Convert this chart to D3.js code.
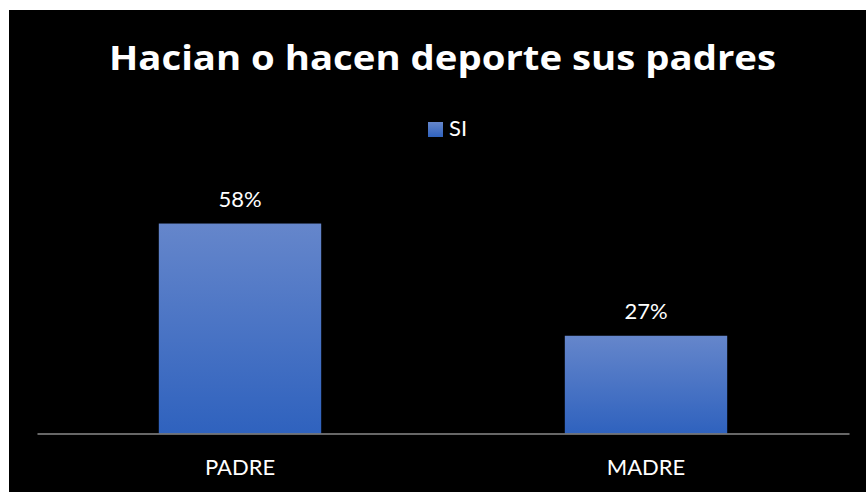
<!DOCTYPE html>
<html>
<head>
<meta charset="utf-8">
<script src="https://cdn.jsdelivr.net/npm/d3@7"></script>
<style>
  body { margin: 0; background: #fff; }
  text { font-family: Lato, "Open Sans", sans-serif; }
</style>
</head>
<body>
<div id="chart"></div>
<script>
// chart data
let categories = ["PADRE", "MADRE"];
let si_values = [0.58, 0.27];
let series_name = "SI";
let title_text = "Hacian o hacen deporte sus padres";

let width = 866;
let height = 492;

let opts = {
  frame_x: 9,
  frame_y: 10,
  plot_left: 37,
  plot_right: 849,
  baseline: 433.5,
  px_per_unit: 362,
  bar_padding: 0.6,
  title_x: 109,
  title_width: 667,
};

let svg = d3
  .select("#chart")
  .append("svg")
  .attr("width", width)
  .attr("height", height);

// gradient for bars
let defs = svg.append("defs");
let grad = defs
  .append("linearGradient")
  .attr("id", "barGrad")
  .attr("x1", 0)
  .attr("y1", 0)
  .attr("x2", 0)
  .attr("y2", 1);
grad.append("stop").attr("offset", "0%").attr("stop-color", "#6586cb");
grad.append("stop").attr("offset", "100%").attr("stop-color", "#2f62be");

// black chart area
svg
  .append("rect")
  .attr("x", opts.frame_x)
  .attr("y", opts.frame_y)
  .attr("width", width - opts.frame_x)
  .attr("height", height - opts.frame_y)
  .attr("fill", "#000");

let x = d3
  .scaleBand()
  .domain(categories)
  .range([opts.plot_left, opts.plot_right])
  .paddingInner(opts.bar_padding)
  .paddingOuter(opts.bar_padding / 2);

let y = d3
  .scaleLinear()
  .domain([0, 0.6])
  .range([opts.baseline, opts.baseline - 0.6 * opts.px_per_unit]);

// bars
svg
  .selectAll(".bar")
  .data(si_values)
  .join("rect")
  .attr("class", "bar")
  .attr("x", (d, i) => x(categories[i]))
  .attr("y", (d) => y(d))
  .attr("width", x.bandwidth())
  .attr("height", (d) => y(0) - y(d))
  .attr("fill", "url(#barGrad)");

// baseline axis
let xAxis = d3.axisBottom(x).tickSize(0).tickPadding(26);
let axis_g = svg
  .append("g")
  .attr("transform", `translate(0,${opts.baseline})`)
  .call(xAxis);
axis_g.select(".domain").attr("stroke", "#8a8a8a").attr("stroke-width", 1.3);
axis_g
  .selectAll("text")
  .attr("fill", "#fff")
  .attr("font-size", 22)
  .style("font-family", "Lato, sans-serif");

// value labels
svg
  .selectAll(".vlabel")
  .data(si_values)
  .join("text")
  .attr("class", "vlabel")
  .attr("x", (d, i) => x(categories[i]) + x.bandwidth() / 2)
  .attr("y", (d) => y(d) - 17)
  .attr("text-anchor", "middle")
  .attr("fill", "#fff")
  .attr("font-size", 22)
  .text((d) => d3.format(".0%")(d));

// title, fitted to the width seen in the original
svg
  .append("text")
  .attr("x", opts.title_x)
  .attr("y", 70)
  .attr("fill", "#fff")
  .style("font-family", "'Open Sans', sans-serif")
  .attr("font-size", 34)
  .attr("font-weight", "bold")
  .attr("textLength", opts.title_width)
  .attr("lengthAdjust", "spacingAndGlyphs")
  .text(title_text);

// legend
let legend = svg.append("g").attr("transform", "translate(428,122)");
legend
  .append("rect")
  .attr("width", 15)
  .attr("height", 15)
  .attr("fill", "url(#barGrad)");
legend
  .append("text")
  .attr("x", 21)
  .attr("y", 14)
  .attr("fill", "#fff")
  .attr("font-size", 22)
  .text(series_name);
</script>
</body>
</html>
